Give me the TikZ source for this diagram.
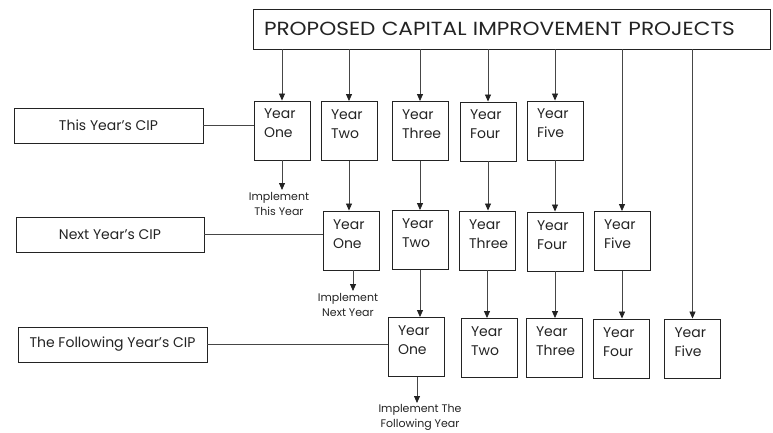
\documentclass[tikz,border=0pt]{standalone}
\usepackage{fontspec}
\setmainfont{Poppins}
\newfontfamily\titlefont[FakeStretch=1.14]{Poppins}
\usetikzlibrary{arrows.meta}
\definecolor{ink}{RGB}{35,35,35}
\definecolor{wire}{RGB}{70,70,70}
\tikzset{
  yearbox/.style={draw=ink, line width=0.9pt, text=ink, minimum width=56pt, minimum height=59pt,
    inner xsep=10pt, inner ysep=0pt, text width=36pt, align=left,
    text height=18pt, text depth=41pt, font=\fontsize{14}{19}\selectfont},
  cipbox/.style={draw=ink, line width=0.9pt, text=ink, minimum width=189pt, minimum height=35pt,
    inner sep=0pt, font=\fontsize{14}{17}\selectfont},
  impl/.style={text=ink, align=center, inner sep=0pt, font=\fontsize{11}{15}\selectfont, anchor=north},
  arr/.style={draw=wire, line width=0.8pt, -{Triangle[length=7pt,width=6pt,color=ink]}},
  wireline/.style={draw=wire, line width=0.8pt},
}
\begin{document}
\begin{tikzpicture}[x=1pt,y=-1pt]
\useasboundingbox (0,0) rectangle (773,433);
\node[draw=ink, line width=0.9pt, text=ink, minimum width=517pt, minimum height=40pt, inner xsep=11pt,
  text width=495pt, align=left, font=\titlefont\fontsize{19}{22}\selectfont] (title) at (511.5,29) {PROPOSED CAPITAL IMPROVEMENT PROJECTS};
% CIP boxes
\node[cipbox] (cip1) at (108.5,125.5) {This Year’s CIP};
\node[cipbox, minimum width=188pt] (cip2) at (110,234.5) {Next Year’s CIP};
\node[cipbox] (cip3) at (112.5,344.5) {The Following Year’s CIP};
% row 1
\node[yearbox] (a1) at (282,130.5) {Year\\One};
\node[yearbox] (a2) at (349,131) {Year\\Two};
\node[yearbox] (a3) at (420,131) {Year\\Three};
\node[yearbox] (a4) at (488,131.5) {Year\\Four};
\node[yearbox] (a5) at (555,130.5) {Year\\Five};
% row 2
\node[yearbox] (b1) at (351,240.5) {Year\\One};
\node[yearbox] (b2) at (420,240) {Year\\Two};
\node[yearbox] (b3) at (487,240.5) {Year\\Three};
\node[yearbox] (b4) at (555,241.5) {Year\\Four};
\node[yearbox] (b5) at (622,241) {Year\\Five};
% row 3
\node[yearbox] (c1) at (416,347) {Year\\One};
\node[yearbox] (c2) at (489,348) {Year\\Two};
\node[yearbox] (c3) at (554,348) {Year\\Three};
\node[yearbox] (c4) at (621,348.5) {Year\\Four};
\node[yearbox] (c5) at (692.5,348.5) {Year\\Five};
% title arrows
\foreach \t in {a1,a2,a3,a4,a5,b5,c5}
  \draw[arr] (title.south -| \t.north) -- (\t.north);
% row connections
\draw[arr] (a2.south) -- (a2.south |- b1.north);
\draw[arr] (a3.south) -- (a3.south |- b2.north);
\draw[arr] (a4.south) -- (a4.south |- b3.north);
\draw[arr] (a5.south) -- (a5.south |- b4.north);
\draw[arr] (b2.south) -- (b2.south |- c1.north);
\draw[arr] (b3.south) -- (b3.south |- c2.north);
\draw[arr] (b4.south) -- (b4.south |- c3.north);
\draw[arr] (b5.south) -- (b5.south |- c4.north);
% implement arrows
\coordinate (e1) at (282,190);
\coordinate (e2) at (353,291);
\coordinate (e3) at (417,403);
\draw[arr] (a1.south) -- (e1);
\draw[arr] (b1.south -| e2) -- (e2);
\draw[arr] (c1.south -| e3) -- (e3);
\node[impl] (l1) at (279,192) {Implement\\This Year};
\node[impl] (l2) at (348,293) {Implement\\Next Year};
\node[impl] (l3) at (420,404) {Implement The\\Following Year};
% CIP lines
\draw[wireline] (cip1.east) -- (cip1.east -| a1.west);
\draw[wireline] (cip2.east) -- (cip2.east -| b1.west);
\draw[wireline] (cip3.east) -- (cip3.east -| c1.west);
\end{tikzpicture}
\end{document}
